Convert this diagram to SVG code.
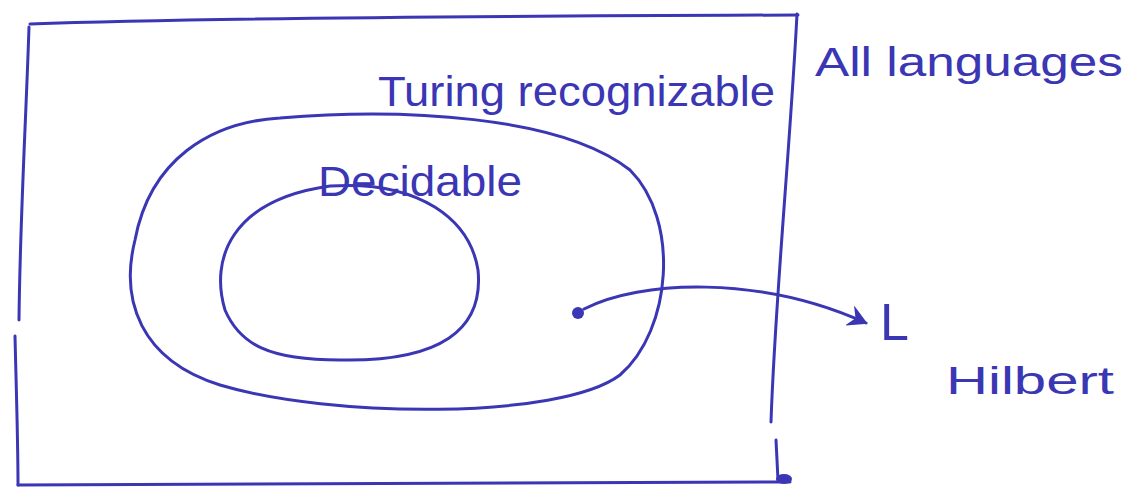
<svg xmlns="http://www.w3.org/2000/svg" width="1136" height="492" viewBox="0 0 1136 492">
<style>
.ink{fill:none;stroke:#3a36b4;stroke-width:3;stroke-linecap:round;stroke-linejoin:round}
.t{font-family:"Liberation Sans","DejaVu Sans",sans-serif;fill:#3a36b4}
</style>
<defs>
<marker id="ah" viewBox="0 0 12 12" refX="10" refY="6" markerWidth="7" markerHeight="7" orient="auto" markerUnits="strokeWidth">
<path d="M1,1 L10,6 L1,11 L4,6 Z" fill="#3a36b4" stroke="#3a36b4" stroke-width="1"/>
</marker>
</defs>
<rect width="1136" height="492" fill="#fff"/>
<g id="all-languages">
<path class="ink" d="M30,24 C200,18 500,16 798,15"/>
<path class="ink" d="M29,27 C26,120 20,220 19,320"/>
<path class="ink" d="M15,336 C16,380 18,440 18,485"/>
<path class="ink" d="M797,14 C790,150 775,300 771,422"/>
<path class="ink" d="M776,440 L778,480"/>
<path class="ink" d="M18,485 C260,486 520,484 790,482"/>
<ellipse cx="784" cy="479" rx="8" ry="5" fill="#3a36b4"/>
<text class="t" x="815" y="76" font-size="40" textLength="308" lengthAdjust="spacingAndGlyphs">All languages</text>
</g>
<g id="turing-recognizable">
<path class="ink" d="M280,118 C400,108 560,115 630,170 C680,220 672,330 620,375 C560,420 330,418 220,385 C140,360 120,300 135,240 C150,160 210,122 280,118 Z"/>
<text class="t" x="378" y="106" font-size="42" textLength="397" lengthAdjust="spacingAndGlyphs">Turing recognizable</text>
</g>
<g id="decidable">
<path class="ink" d="M330,186 C420,180 470,220 478,270 C484,330 440,362 340,360 C270,360 240,345 225,310 C210,260 230,200 330,186 Z"/>
<text class="t" x="318" y="196" font-size="42" textLength="204" lengthAdjust="spacingAndGlyphs">Decidable</text>
</g>
<g id="l-hilbert">
<circle cx="578" cy="313" r="6" fill="#3a36b4"/>
<text class="t" x="880" y="340" font-size="52">L</text>
<text class="t" x="946" y="394" font-size="38" textLength="168" lengthAdjust="spacingAndGlyphs">Hilbert</text>
</g>
<g id="connectors">
<path class="ink" d="M584,309 C640,280 760,275 866,323" marker-end="url(#ah)"/>
</g>
</svg>
